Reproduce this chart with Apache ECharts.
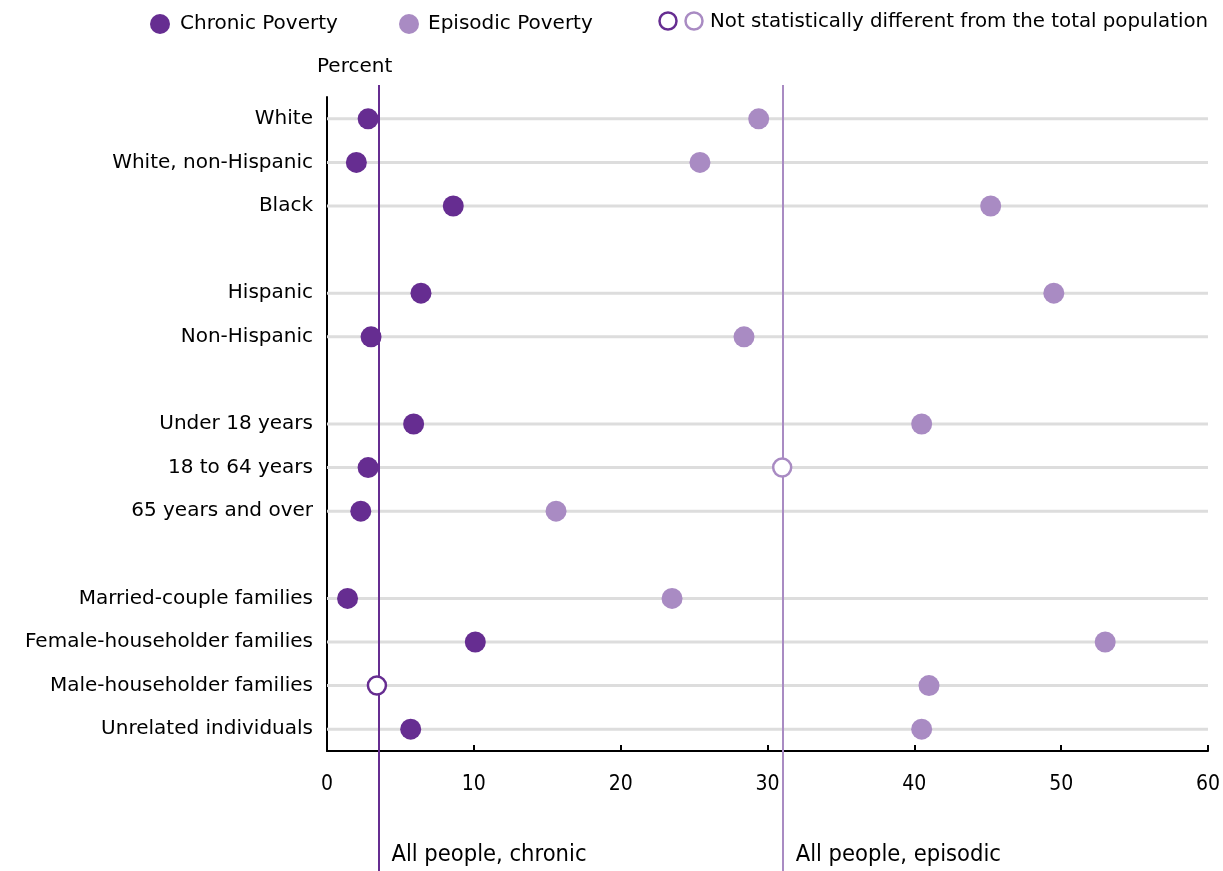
<!DOCTYPE html>
<html>
<head>
<meta charset="utf-8">
<script src="https://cdn.jsdelivr.net/npm/echarts@6/dist/echarts.min.js"></script>
<style>html,body{margin:0;padding:0;background:#fff;}#c{width:1223px;height:871px;}</style>
</head>
<body>
<div id="c"></div>
<script>
// ---- data ----
var categories = ['White', 'White, non-Hispanic', 'Black', ' ',
  'Hispanic', 'Non-Hispanic', '  ',
  'Under 18 years', '18 to 64 years', '65 years and over', '   ',
  'Married-couple families', 'Female-householder families', 'Male-householder families', 'Unrelated individuals'];
var chronic  = [2.8, 2.0, 8.6, null, 6.4, 3.0, null, 5.9, 2.8, 2.3, null, 1.4, 10.1, 3.4, 5.7];
var episodic = [29.4, 25.4, 45.2, null, 49.5, 28.4, null, 40.5, 31.0, 15.6, null, 23.5, 53.0, 41.0, 40.5];
var chronicNotSig  = [false, false, false, false, false, false, false, false, false, false, false, false, false, true, false];
var episodicNotSig = [false, false, false, false, false, false, false, false, true, false, false, false, false, false, false];
var allPeopleChronic = 3.5;
var allPeopleEpisodic = 31.0;
var xTicks = [0, 10, 20, 30, 40, 50, 60];

var DARK = '#662d91';
var LIGHT = '#a98bc3';
var TEXT = '#000';
var LABEL_FONT = '"DejaVu Sans", sans-serif';
var COND_FONT = '"DejaVu Sans Condensed", "Liberation Sans Narrow", sans-serif';

function points(vals, notSig, color) {
  var out = [];
  vals.forEach(function (v, i) {
    if (v == null) return;
    if (notSig[i]) {
      out.push({ value: [v, i], symbolSize: 18, itemStyle: { color: '#fff', borderColor: color, borderWidth: 2.5, opacity: 1 } });
    } else {
      out.push({ value: [v, i], symbolSize: 21, itemStyle: { color: color, opacity: 1 } });
    }
  });
  return out;
}

var gridRows = [];
categories.forEach(function (c, i) { if (c.trim()) gridRows.push([0, i]); });

var chart = echarts.init(document.getElementById('c'), null, { renderer: 'canvas' });
chart.setOption({
  animation: false,
  textStyle: { fontFamily: LABEL_FONT },
  grid: [
    { left: 327, right: 14, top: 97, bottom: 120 },
    { left: 327, right: 14, top: 85, bottom: 0 }
  ],
  xAxis: [
    { type: 'value', gridIndex: 0, min: xTicks[0], max: xTicks[xTicks.length - 1], interval: 10,
      axisLine: { show: true, onZero: false, lineStyle: { color: '#000', width: 2 } },
      axisTick: { show: true, inside: true, length: 6, lineStyle: { color: '#000', width: 2 } },
      splitLine: { show: false },
      axisLabel: { margin: 23, fontSize: 21, color: TEXT, fontFamily: COND_FONT } },
    { type: 'value', gridIndex: 1, min: 0, max: 60, show: false }
  ],
  yAxis: [
    { type: 'category', gridIndex: 0, data: categories, inverse: true,
      axisLine: { show: true, lineStyle: { color: '#000', width: 2 } },
      axisTick: { show: false },
      splitLine: { show: false },
      axisLabel: { margin: 14, fontSize: 20, color: TEXT, fontFamily: LABEL_FONT } },
    { type: 'value', gridIndex: 1, min: 0, max: 1, show: false }
  ],
  graphic: [
    { type: 'text', left: 317, top: 57, style: { text: 'Percent', fontSize: 20, fill: TEXT, fontFamily: LABEL_FONT } },
    { type: 'circle', shape: { cx: 160, cy: 24, r: 10 }, style: { fill: DARK } },
    { type: 'text', left: 180, top: 14, style: { text: 'Chronic Poverty', fontSize: 20, fill: TEXT, fontFamily: LABEL_FONT } },
    { type: 'circle', shape: { cx: 409, cy: 24, r: 10 }, style: { fill: LIGHT } },
    { type: 'text', left: 428, top: 14, style: { text: 'Episodic Poverty', fontSize: 20, fill: TEXT, fontFamily: LABEL_FONT } },
    { type: 'circle', shape: { cx: 668, cy: 21, r: 8.5 }, style: { fill: '#fff', stroke: DARK, lineWidth: 2.5 } },
    { type: 'circle', shape: { cx: 694, cy: 21, r: 8.5 }, style: { fill: '#fff', stroke: LIGHT, lineWidth: 2.5 } },
    { type: 'text', left: 710, top: 12, style: { text: 'Not statistically different from the total population', fontSize: 19.8, fill: TEXT, fontFamily: LABEL_FONT } }
  ],
  series: [
    { type: 'custom', xAxisIndex: 0, yAxisIndex: 0, z: 1, silent: true,
      data: gridRows,
      renderItem: function (params, api) {
        var row = api.value(1);
        var p0 = api.coord([0, row]);
        var p1 = api.coord([60, row]);
        return { type: 'line', shape: { x1: p0[0], y1: p0[1], x2: p1[0], y2: p1[1] },
                 style: { stroke: '#dddddd', lineWidth: 3 } };
      } },
    { type: 'scatter', xAxisIndex: 1, yAxisIndex: 1, z: 2, silent: true,
      data: [[allPeopleChronic, 0.02]], symbolSize: 0, itemStyle: { opacity: 1 },
      label: { show: true, position: 'right', distance: 13, formatter: 'All people, chronic', fontSize: 23.5, color: TEXT, opacity: 1, fontFamily: COND_FONT },
      markLine: { silent: true, symbol: 'none', label: { show: false }, animation: false,
        lineStyle: { color: DARK, width: 2, type: 'solid' }, data: [{ xAxis: allPeopleChronic }] } },
    { type: 'scatter', xAxisIndex: 1, yAxisIndex: 1, z: 2, silent: true,
      data: [[allPeopleEpisodic, 0.02]], symbolSize: 0, itemStyle: { opacity: 1 },
      label: { show: true, position: 'right', distance: 13, formatter: 'All people, episodic', fontSize: 23.5, color: TEXT, opacity: 1, fontFamily: COND_FONT },
      markLine: { silent: true, symbol: 'none', label: { show: false }, animation: false,
        lineStyle: { color: LIGHT, width: 2, type: 'solid' }, data: [{ xAxis: allPeopleEpisodic }] } },
    { name: 'Chronic Poverty', type: 'scatter', xAxisIndex: 0, yAxisIndex: 0, z: 5,
      itemStyle: { opacity: 1 },
      data: points(chronic, chronicNotSig, DARK) },
    { name: 'Episodic Poverty', type: 'scatter', xAxisIndex: 0, yAxisIndex: 0, z: 5,
      itemStyle: { opacity: 1 },
      data: points(episodic, episodicNotSig, LIGHT) }
  ]
});
</script>
</body>
</html>
